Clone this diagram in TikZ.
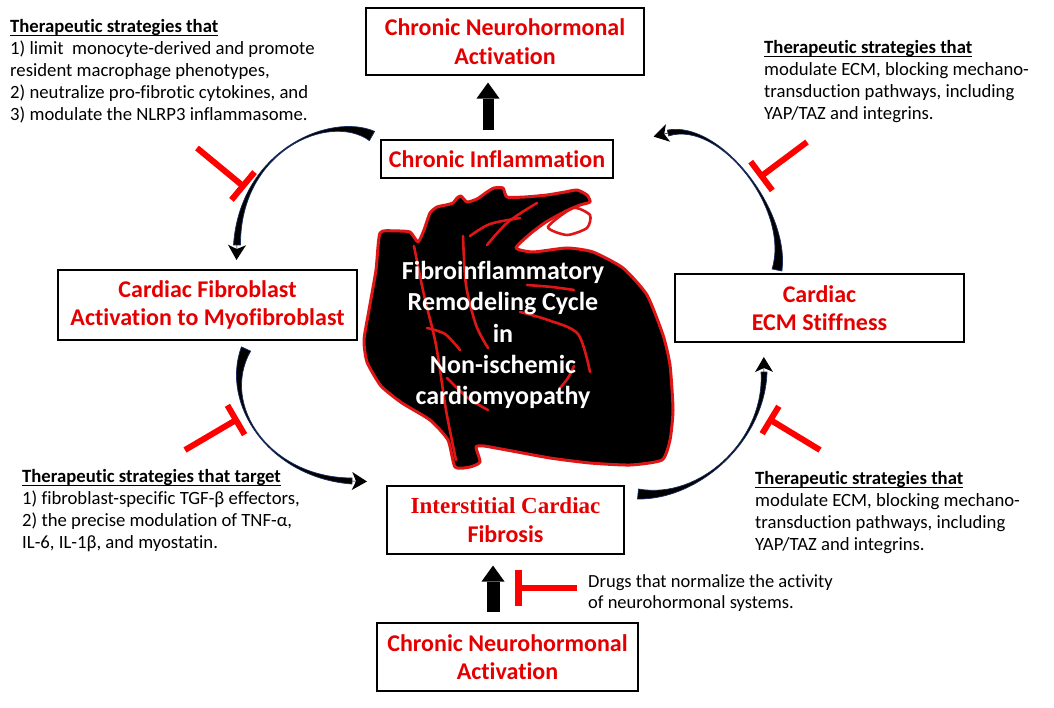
\documentclass[tikz,border=0pt]{standalone}
\usepackage{fontspec}
\setmainfont{Carlito}[Ligatures=NoCommon]
\newfontfamily\timesbf{Liberation Serif}
\usetikzlibrary{arrows.meta,calc}
\definecolor{boxred}{RGB}{228,0,0}
\definecolor{tred}{RGB}{255,0,0}
\definecolor{heartred}{RGB}{222,22,22}
\definecolor{navy}{RGB}{25,45,95}
\newcommand{\myul}[1]{\leavevmode\setbox0\hbox{#1}\rlap{\rule[-3.8pt]{\wd0}{1.3pt}}\box0}
\begin{document}
\begin{tikzpicture}[x=1pt,y=-1pt,
  box/.style={draw=black, line width=1.1pt, fill=white, align=center,
    font=\fontsize{24}{28.5}\selectfont\bfseries, text=boxred, inner sep=0pt},
  note/.style={align=left, anchor=north west, inner sep=0pt,
    font=\fontsize{18.7}{22}\selectfont, text=black},
  inhib/.style={draw=tred, line width=6pt},
  blockarr/.style={draw=black, line width=11pt,
    -{Triangle[length=16pt,width=23pt,line width=0pt]}},
  arrfill/.style={fill=black, draw=navy, line width=0.7pt},
  arrhead/.style={draw=black, line width=0.5pt,
    -{Stealth[length=15pt,width=18pt,inset=4pt,line width=0pt]}},
  vessel/.style={draw=heartred, line width=2.6pt, line cap=round}]
\fill[white] (0,0) rectangle (1054,708);
\useasboundingbox (0,0) rectangle (1054,708);

% ---------------- heart ----------------
\filldraw[fill=black, draw=heartred, line width=3pt, line join=round]
  plot[smooth cycle, tension=0.35] coordinates {
  (380,233) (395,231) (410,232) (418,242) (424,230) (430,213) (437,207)
  (446,205) (453,203) (457,198) (461,196) (467,202) (477,199)
  (487,192) (494,188) (503,188) (507,197) (525,197) (547,195)
  (565,192) (577,190) (587,195) (590,202) (580,205) (566,211)
  (546,222) (530,234) (516,248) (533,252) (567,248) (593,252)
  (623,268) (647,295) (663,335) (670,365) (673,410) (670,440)
  (662,460) (630,465) (590,463) (550,458) (512,451) (484,446)
  (476,447) (480,462) (470,467) (455,467) (448,440) (430,420)
  (402,403) (381,386) (367,362) (364,340) (369,310) (376,270)};
\draw[vessel] plot[smooth] coordinates {(414,246) (424,295) (436,345) (446,410) (456,460)};
\draw[vessel] plot[smooth] coordinates {(470,236) (490,224) (520,218)};
\draw[vessel] plot[smooth] coordinates {(487,245) (508,222) (537,203)};
\draw[vessel] plot[smooth] coordinates {(463,236) (466,285) (476,325) (488,348)};
\draw[vessel] plot[smooth] coordinates {(527,285) (552,287) (574,290)};
\draw[vessel] plot[smooth] coordinates {(520,312) (548,320) (578,334) (590,372)};
\draw[vessel] plot[smooth] coordinates {(427,328) (445,334) (460,350)};
\draw[vessel] plot[smooth] coordinates {(447,378) (468,398) (488,410)};
\draw[vessel] plot[smooth] coordinates {(560,388) (568,378) (574,366)};
\draw[vessel] plot[smooth cycle, tension=0.4] coordinates {(573,208) (590,215) (587,228) (567,235) (548,227)};

\node[font=\fontsize{26}{31.3}\selectfont\bfseries, text=white, align=center, inner sep=0pt]
  (htext) at (503,335) {Fibroinflammatory\\Remodeling Cycle\\in\\Non-ischemic\\cardiomyopathy};

% ---------------- boxes ----------------
\node[box, minimum width=278pt, minimum height=67pt] (topact) at (505,41.5) {Chronic Neurohormonal\\Activation};
\node[box, minimum width=232pt, minimum height=38pt] (infl) at (497,159) {Chronic Inflammation};
\node[box, minimum width=299pt, minimum height=70pt] (fib) at (207.5,305) {Cardiac Fibroblast\\Activation to Myofibroblast};
\node[box, minimum width=289pt, minimum height=68pt] (ecm) at (819.5,308) {Cardiac\\ECM Stiffness};
\node[box, minimum width=237pt, minimum height=68pt] (ifib) at (505.5,520) {{\timesbf\fontsize{23}{28.5}\selectfont Interstitial Cardiac}\\Fibrosis};
\node[box, minimum width=261pt, minimum height=68pt] (botact) at (507.5,657) {Chronic Neurohormonal\\Activation};

% ---------------- notes ----------------
\node[note] (ntl) at (10,19) {{\bfseries\myul{Therapeutic strategies that}}\\1) limit\ \ monocyte-derived and promote\\resident macrophage phenotypes,\\2) neutralize pro-fibrotic cytokines, and\\3) modulate the NLRP3 inflammasome.};
\node[note] (ntr) at (764,40) {{\bfseries\myul{Therapeutic strategies that}}\\modulate ECM, blocking mechano-\\transduction pathways, including\\YAP/TAZ and integrins.};
\node[note] (nbl) at (22,469) {{\bfseries\myul{Therapeutic strategies that target}}\\1) fibroblast-specific TGF-β effectors,\\2) the precise modulation of TNF-α,\\IL-6, IL-1β, and myostatin.};
\node[note] (nbr) at (755,471) {{\bfseries\myul{Therapeutic strategies that}}\\modulate ECM, blocking mechano-\\transduction pathways, including\\YAP/TAZ and integrins.};
\node[note, font=\fontsize{18.5}{21.5}\selectfont] (ndr) at (588,574) {Drugs that normalize the activity\\of neurohormonal systems.};

% ---------------- straight block arrows ----------------
\coordinate (ax1) at (488,0);
\coordinate (ax2) at (493,0);
\draw[blockarr, shorten <=9pt, shorten >=7pt] (infl.north -| ax1) -- (topact.south -| ax1);
\draw[blockarr, line width=13pt, shorten <=10pt, shorten >=11pt] (botact.north -| ax2) -- (ifib.south -| ax2);

% ---------------- curved tapered arrows ----------------
% arrow 1: Chronic Inflammation -> Fibroblast
\coordinate (a1so) at (374.6,131.4); \coordinate (a1si) at (369.4,140.6);
\coordinate (a1c1) at (330,112); \coordinate (a1c2) at (240,150);
\coordinate (a1eo) at (233.5,245); \coordinate (a1ei) at (240.5,245);
\coordinate (a1e) at (237,244); \coordinate (a1t) at (236.5,260);
\filldraw[arrfill] (a1so) .. controls (a1c1) and (a1c2) .. (a1eo) -- (a1ei) .. controls (a1c2) and (a1c1) .. (a1si) -- cycle;
\draw[arrhead] (a1e) -- (a1t);
% arrow 2: ECM -> Chronic Inflammation
\coordinate (a2so) at (781.9,271); \coordinate (a2si) at (772.1,269);
\coordinate (a2c1) at (790,210); \coordinate (a2c2) at (720,120);
\coordinate (a2eo) at (667.3,130.1); \coordinate (a2ei) at (668.7,135.9);
\coordinate (a2e) at (669,132.8); \coordinate (a2t) at (653.5,136.6);
\filldraw[arrfill] (a2so) .. controls (a2c1) and (a2c2) .. (a2eo) -- (a2ei) .. controls (a2c2) and (a2c1) .. (a2si) -- cycle;
\draw[arrhead] (a2e) -- (a2t);
% arrow 3: Interstitial -> ECM
\coordinate (a3so) at (637.5,499); \coordinate (a3si) at (638.5,489);
\coordinate (a3c1) at (700,500); \coordinate (a3c2) at (765,440);
\coordinate (a3eo) at (767,372); \coordinate (a3ei) at (761,372);
\coordinate (a3e) at (764,373); \coordinate (a3t) at (763.8,357);
\filldraw[arrfill] (a3so) .. controls (a3c1) and (a3c2) .. (a3eo) -- (a3ei) .. controls (a3c2) and (a3c1) .. (a3si) -- cycle;
\draw[arrhead] (a3e) -- (a3t);
% arrow 4: Fibroblast -> Interstitial
\coordinate (a4so) at (241.4,346.9); \coordinate (a4si) at (250.6,351.1);
\coordinate (a4c1) at (220,405); \coordinate (a4c2) at (270,478);
\coordinate (a4eo) at (351.9,484); \coordinate (a4ei) at (352.1,478);
\coordinate (a4e) at (351,481); \coordinate (a4t) at (367,481.5);
\filldraw[arrfill] (a4so) .. controls (a4c1) and (a4c2) .. (a4eo) -- (a4ei) .. controls (a4c2) and (a4c1) .. (a4si) -- cycle;
\draw[arrhead] (a4e) -- (a4t);

% ---------------- inhibitors ----------------
\coordinate (i1s) at (197,148); \coordinate (i1e) at (243,186);
\coordinate (i1a) at (231.5,199.9); \coordinate (i1b) at (254.5,172.1);
\draw[inhib] (i1s) -- (i1e); \draw[inhib] (i1a) -- (i1b);
\coordinate (i2s) at (807,142); \coordinate (i2e) at (761.5,176);
\coordinate (i2a) at (750.7,161.6); \coordinate (i2b) at (772.3,190.4);
\draw[inhib] (i2s) -- (i2e); \draw[inhib] (i2a) -- (i2b);
\coordinate (i3s) at (820,450); \coordinate (i3e) at (770.5,420);
\coordinate (i3a) at (762.2,433.7); \coordinate (i3b) at (778.8,406.3);
\draw[inhib] (i3s) -- (i3e); \draw[inhib] (i3a) -- (i3b);
\coordinate (i4s) at (185,450); \coordinate (i4e) at (236,420);
\coordinate (i4a) at (227.4,405.3); \coordinate (i4b) at (244.6,434.7);
\draw[inhib] (i4s) -- (i4e); \draw[inhib] (i4a) -- (i4b);
\coordinate (i5s) at (577,588); \coordinate (i5e) at (518.5,588);
\coordinate (i5a) at (518.5,570); \coordinate (i5b) at (518.5,606);
\draw[inhib, line width=6.5pt] (i5s) -- (i5e); \draw[inhib, line width=7pt] (i5a) -- (i5b);
\end{tikzpicture}
\end{document}
